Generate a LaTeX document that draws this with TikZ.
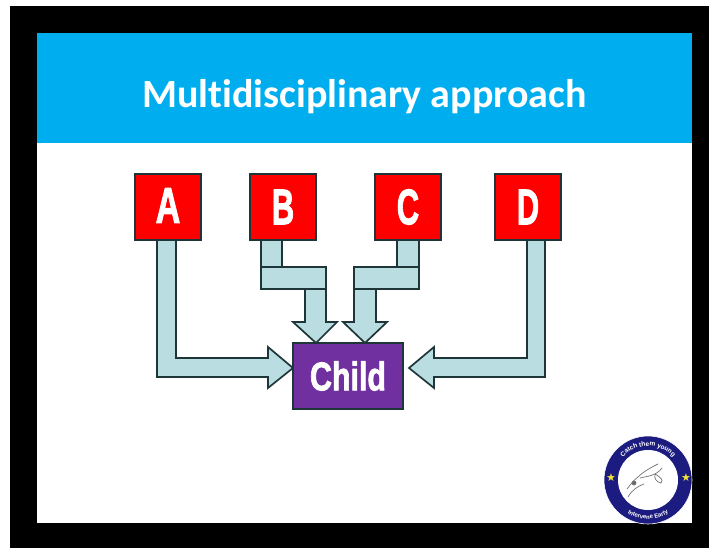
\documentclass[tikz,border=0pt]{standalone}
\usepackage{fontspec}
\usetikzlibrary{shapes.geometric,decorations.text}
\newfontfamily\titlefont[Ligatures=NoCommon]{Carlito}
\newfontfamily\heavyfont[FakeBold=2.2]{Liberation Sans Bold}
\definecolor{framecol}{HTML}{000000}
\definecolor{bandblue}{HTML}{00AEEF}
\definecolor{boxred}{HTML}{FF0000}
\definecolor{boxpurple}{HTML}{7030A0}
\definecolor{arrowfill}{HTML}{B9DDE0}
\definecolor{edgecol}{HTML}{1E3638}
\definecolor{ringnavy}{HTML}{1B1B80}
\definecolor{stargold}{HTML}{F2E23A}
\newcommand{\narrow}[2]{\scalebox{#1}[1]{#2}}
\tikzset{
  letterbox/.style={draw=edgecol,line width=1.7pt,fill=boxred,minimum width=66pt,minimum height=66pt,inner sep=0pt,outer sep=0pt,text=white,font=\heavyfont\fontsize{50}{50}\selectfont},
  childbox/.style={draw=edgecol,line width=1.7pt,fill=boxpurple,minimum width=110pt,minimum height=66pt,inner sep=0pt,outer sep=0pt,text=white,font=\heavyfont\fontsize{40}{40}\selectfont},
  blockarrow/.style={draw=edgecol,line width=1.7pt,fill=arrowfill,line join=miter},
  barpart/.style={draw=edgecol,line width=1.7pt,fill=arrowfill},
  sketch/.style={draw=black!55,line width=.7pt,line cap=round},
}
\begin{document}
\begin{tikzpicture}[x=1pt,y=-1pt]
\useasboundingbox (0,0) rectangle (709,548);
\fill[white] (0,0) rectangle (709,548);
\fill[framecol] (10,6) rectangle (709,548);
\fill[white] (37,143) rectangle (692,523);
\fill[bandblue] (37,33) rectangle (692,143);
\node[font=\titlefont\bfseries\fontsize{40}{40}\selectfont,text=white,anchor=base] (title) at (364.5,108) {Multidisciplinary approach};

% connectors are painted first; the boxes are placed on named coordinates
\coordinate (Apos) at (168,207);
\coordinate (Bpos) at (283,207);
\coordinate (Cpos) at (408,207);
\coordinate (Dpos) at (528,207);
\coordinate (Kpos) at (348,376);
\node[letterbox,opacity=0] (A0) at (Apos) {};
\node[letterbox,opacity=0] (B0) at (Bpos) {};
\node[letterbox,opacity=0] (C0) at (Cpos) {};
\node[letterbox,opacity=0] (D0) at (Dpos) {};
\node[childbox,opacity=0] (K0) at (Kpos) {};

% A
\draw[blockarrow] ([xshift=-11pt]A0.south) -- ++(0,137) -- ++(111,0) -- ++(0,11)
  -- ([yshift=8pt]K0.west) -- ++(-25,-21) -- ++(0,11) -- ++(-92,0) -- ++(0,-118);
% D
\draw[blockarrow] ([xshift=17pt]D0.south) -- ++(0,137) -- ++(-111,0) -- ++(0,11)
  -- ([xshift=6pt,yshift=8pt]K0.east) -- ++(25,-21) -- ++(0,11) -- ++(93,0) -- ++(0,-118);
% B
\draw[barpart] ([xshift=-22pt]B0.south) rectangle ++(21,27);
\draw[barpart] ([xshift=-22pt,yshift=-27pt]B0.south) rectangle ++(65,22);
\draw[blockarrow] ([xshift=22pt,yshift=-49pt]B0.south) -- ++(0,33) -- ++(-12,0)
  -- ([xshift=-32pt]K0.north) -- ++(21,-21) -- ++(-11,0) -- ++(0,-33);
\draw[edgecol,line width=1.7pt] ([xshift=-22pt,yshift=-49pt]B0.south) -- ++(65,0);
% C
\draw[barpart] ([xshift=-11pt]C0.south) rectangle ++(22,27);
\draw[barpart] ([xshift=-54pt,yshift=-27pt]C0.south) rectangle ++(65,22);
\draw[blockarrow] ([xshift=-54pt,yshift=-49pt]C0.south) -- ++(0,33) -- ++(-11,0)
  -- ([xshift=17pt]K0.north) -- ++(22,-21) -- ++(-11,0) -- ++(0,-33);
\draw[edgecol,line width=1.7pt] ([xshift=-54pt,yshift=-49pt]C0.south) -- ++(65,0);

% boxes
\node[letterbox] (A) at (Apos) {\raisebox{3pt}{\narrow{.68}{A}}};
\node[letterbox] (B) at (Bpos) {\raisebox{-1pt}{\narrow{.62}{B}}};
\node[letterbox] (C) at (Cpos) {\raisebox{-1pt}{\narrow{.62}{C}}};
\node[letterbox] (D) at (Dpos) {\raisebox{-2pt}{\narrow{.62}{D}}};
\node[childbox] (child) at (Kpos) {\narrow{.76}{Child}};

% logo
\node[circle,fill=ringnavy,draw=white,line width=.6pt,minimum size=88pt,inner sep=0pt,outer sep=0pt] (logo) at (648,480) {};
\node[circle,fill=white,minimum size=60pt,inner sep=0pt] (logoin) at (logo.center) {};
\node[font=\fontsize{11}{11}\selectfont\fontspec{DejaVu Sans},text=stargold,inner sep=0pt] (starL) at (611,478) {★};
\node[font=\fontsize{11}{11}\selectfont\fontspec{DejaVu Sans},text=stargold,inner sep=0pt] (starR) at (686,478) {★};
\path[decorate,decoration={text along path,text align=center,text={|\fontsize{6.5}{6.5}\selectfont\fontspec{Liberation Sans Bold}\color{white}|Catch them young}}]
  ([shift={(160:34pt)}]logo.center) arc[start angle=160,end angle=20,radius=34pt];
\path[decorate,decoration={text along path,text align=center,text={|\fontsize{6}{6}\selectfont\fontspec{Liberation Sans Bold}\color{white}|Intervene Early}}]
  ([shift={(215:39pt)}]logo.center) arc[start angle=215,end angle=325,radius=39pt];
\draw[sketch] (627,489) .. controls (635,478) and (645,470) .. (658,464);
\draw[sketch] (640,478) .. controls (648,476) and (656,476) .. (662,468);
\draw[sketch] (628,497) .. controls (632,490) and (638,486) .. (644,484);
\draw[sketch,fill=black!60] (634,483) circle (2pt);
\draw[sketch] (655,474) .. controls (660,477) and (664,480) .. (661,483) .. controls (656,482) and (654,478) .. (655,474);
\end{tikzpicture}
\end{document}
